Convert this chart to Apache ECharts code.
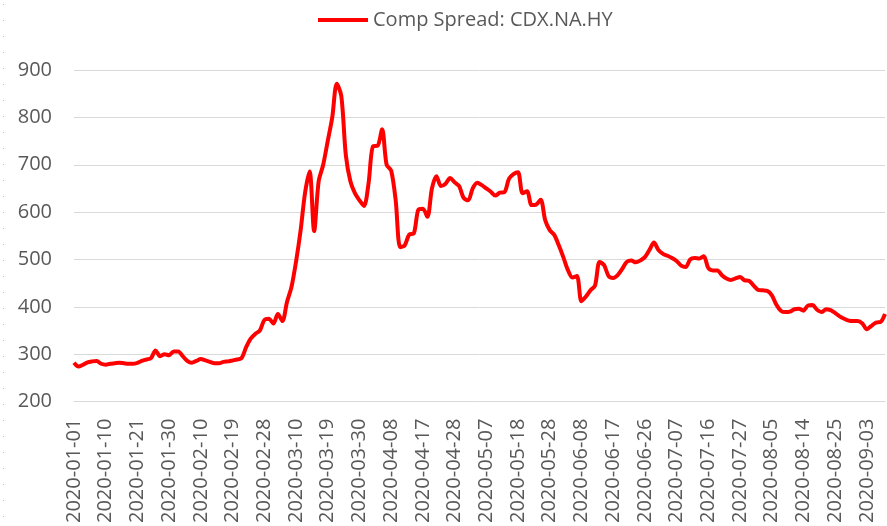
<!DOCTYPE html>
<html>
<head>
<meta charset="utf-8">
<script src="https://cdn.jsdelivr.net/npm/echarts@6/dist/echarts.min.js"></script>
<style>
  html, body { margin: 0; padding: 0; background: #fff; }
  #chart { width: 887px; height: 526px; }
</style>
</head>
<body>
<div id="chart"></div>
<script>
// weekday series starting 2020-01-01, only Memorial Day missing
const startDate = '2020-01-01'
const skippedDays = ['2020-05-25']
const seriesName = 'Comp Spread: CDX.NA.HY'

const spread = [
  282, 274, 278, 283, 285, 286, 280, 278, 280, 281,
  282, 281, 280, 280, 282, 286, 289, 292, 308, 296,
  300, 298, 306, 306, 296, 286, 282, 286, 290, 287,
  284, 281, 281, 284, 285, 287, 289, 292, 315, 333,
  343, 350, 372, 375, 365, 385, 370, 410, 442, 495,
  560, 641, 686, 560, 665, 700, 750, 800, 871, 845,
  720, 665, 640, 625, 613, 660, 739, 740, 775, 700,
  688, 625, 526, 530, 553, 555, 605, 607, 590, 650,
  676, 655, 660, 672, 663, 655, 630, 625, 650, 662,
  657, 650, 643, 635, 641, 642, 670, 680, 684, 640,
  644, 615, 616, 626, 583, 562, 552, 530, 505, 478,
  462, 465, 412, 422, 435, 445, 495, 488, 465, 461,
  467, 480, 495, 498, 494, 498, 505, 520, 536, 520,
  512, 508, 503, 497, 487, 484, 500, 503, 502, 507,
  482, 477, 477, 467, 460, 457, 460, 463, 456, 455,
  445, 436, 435, 434, 425, 405, 392, 389, 390, 395,
  396, 392, 403, 404, 394, 389, 395, 393, 387, 380,
  375, 371, 370, 370, 365, 353, 360, 367, 368, 385
]

const yTicks = [200, 300, 400, 500, 600, 700, 800, 900]

// build the date labels for each value
const pad = n => String(n).padStart(2, '0')
const dates = []
const d = new Date(startDate + 'T00:00:00Z')
while (dates.length < spread.length) {
  const wd = d.getUTCDay()
  const s = `${d.getUTCFullYear()}-${pad(d.getUTCMonth() + 1)}-${pad(d.getUTCDate())}`
  if (wd !== 0 && wd !== 6 && !skippedDays.includes(s)) {
    dates.push(s)
  }
  d.setUTCDate(d.getUTCDate() + 1)
}

const chart = echarts.init(document.getElementById('chart'))

const option = {
  backgroundColor: '#fff',
  animation: false,
  textStyle: {
    fontFamily: 'Open Sans'
  },
  legend: {
    data: [seriesName],
    left: 313,
    top: 5,
    icon: 'rect',
    itemWidth: 50,
    itemHeight: 4,
    textStyle: {
      color: '#595959',
      fontSize: 20,
      fontFamily: 'Open Sans'
    }
  },
  grid: {
    left: 74,
    right: 2,
    top: 70,
    bottom: 123,
    containLabel: false
  },
  xAxis: {
    type: 'category',
    data: dates,
    boundaryGap: false,
    axisLine: {
      lineStyle: {
        color: '#d9d9d9'
      }
    },
    axisTick: { show: false },
    axisLabel: {
      interval: 6,
      rotate: 90,
      margin: 17,
      color: '#595959',
      fontSize: 20,
      fontFamily: 'Open Sans'
    }
  },
  yAxis: {
    type: 'value',
    min: yTicks[0],
    max: yTicks[yTicks.length - 1],
    interval: 100,
    axisLine: { show: false },
    axisTick: { show: false },
    axisLabel: {
      margin: 22,
      color: '#595959',
      fontSize: 20,
      fontFamily: 'Open Sans'
    },
    splitLine: {
      lineStyle: {
        color: '#d9d9d9',
        width: 1
      }
    }
  },
  graphic: [
    {
      type: 'line',
      shape: { x1: 3.5, y1: 4, x2: 3.5, y2: 526 },
      style: { stroke: '#bfbfbf', lineWidth: 1, lineDash: [1, 15] }
    }
  ],
  series: [
    {
      name: seriesName,
      type: 'line',
      data: spread,
      smooth: 0.3,
      showSymbol: false,
      lineStyle: {
        color: '#ff0000',
        width: 4
      },
      itemStyle: {
        color: '#ff0000'
      }
    }
  ]
}

chart.setOption(option)
</script>
</body>
</html>
